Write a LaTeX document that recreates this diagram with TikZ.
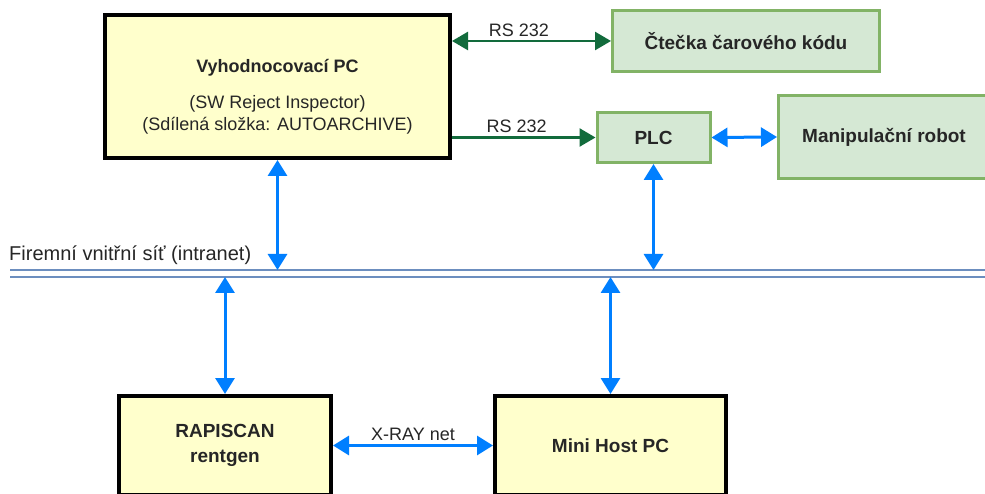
\documentclass[tikz,border=0pt]{standalone}
\usepackage{fontspec}
\setmainfont{Liberation Sans}
\usetikzlibrary{arrows.meta}
\definecolor{pcfill}{HTML}{FFFFCC}
\definecolor{hwfill}{HTML}{D5E8D4}
\definecolor{hwline}{HTML}{82B366}
\definecolor{serial}{HTML}{126B3C}
\definecolor{lan}{HTML}{007FFF}
\definecolor{netline}{HTML}{6C8EBF}
\definecolor{txt}{HTML}{262626}
\begin{document}
\begin{tikzpicture}[
  x=1pt, y=-1pt,
  pc/.style={rectangle, draw=black, line width=4pt, fill=pcfill, text=txt, align=center, font=\fontsize{19}{25}\selectfont\bfseries},
  hw/.style={rectangle, draw=hwline, line width=3pt, fill=hwfill, text=txt, font=\fontsize{19}{23}\selectfont\bfseries},
  lbl/.style={text=txt, font=\fontsize{18}{22}\selectfont},
  rsarr/.style={serial, line width=2.5pt, -{Triangle[length=16pt,width=18pt]}},
  rsboth/.style={rsarr, {Triangle[length=16pt,width=18pt]}-{Triangle[length=16pt,width=18pt]}},
  lanarr/.style={lan, line width=3pt, {Triangle[length=16pt,width=19pt]}-{Triangle[length=16pt,width=19pt]}},
  net/.style={netline, line width=1.5pt},
]
  \useasboundingbox (0,0) rectangle (985,494);
  \clip (0,0) rectangle (985,494);
  \fill[white] (0,0) rectangle (985,494);

  % Upper part
  \node[pc, minimum width=345pt, minimum height=143pt] (evalpc) at (277.5,86.5) {};
  \node[lbl, align=center] (evaltxt) at (277.5,97) {{\bfseries Vyhodnocovací PC}\\[14pt] (SW Reject Inspector)\\ (Sdílená složka: AUTOARCHIVE)};
  \node[hw, minimum width=267pt, minimum height=61pt] (reader) at (746,41) {Čtečka čarového kódu};
  \node[hw, minimum width=113pt, minimum height=50pt] (plc) at (653.5,137.5) {PLC};
  \node[hw, minimum width=211pt, minimum height=83pt] (robot) at (884,137) {Manipulační robot};

  % Network
  \coordinate (netA) at (10,270);
  \coordinate (netB) at (985,270);
  \coordinate (netC) at (10,277);
  \coordinate (netD) at (985,277);
  \draw[net] (netA) -- (netB);
  \draw[net] (netC) -- (netD);
  \node[lbl, anchor=south west, inner sep=1pt, font=\fontsize{20}{24}\selectfont] (netlbl) at (8,266) {Firemní vnitřní síť (intranet)};

  % Lower part
  \node[pc, minimum width=212pt, minimum height=99pt] (rapiscan) at (225,445.5) {RAPISCAN\\rentgen};
  \node[pc, minimum width=231pt, minimum height=99pt] (minihost) at (610.5,445.5) {Mini Host PC};

  % Serial links
  \draw[rsboth] (evalpc.east |- reader.west) -- node[lbl, above, pos=0.42] (rs1) {RS 232} (reader.west);
  \draw[rsarr] (evalpc.east |- plc.west) -- node[lbl, above, pos=0.45] (rs2) {RS 232} (plc.west);

  % Ethernet links
  \draw[lanarr] (plc.east) -- (robot.west);
  \draw[lanarr] (evalpc.south) -- (evalpc.south |- netA);
  \draw[lanarr] (plc.south) -- (plc.south |- netA);
  \draw[lanarr] (rapiscan.north |- netC) -- (rapiscan.north);
  \draw[lanarr] (minihost.north |- netC) -- (minihost.north);
  \draw[lanarr] (rapiscan.east) -- node[lbl, above] (xray) {X-RAY net} (minihost.west);
\end{tikzpicture}
\end{document}
